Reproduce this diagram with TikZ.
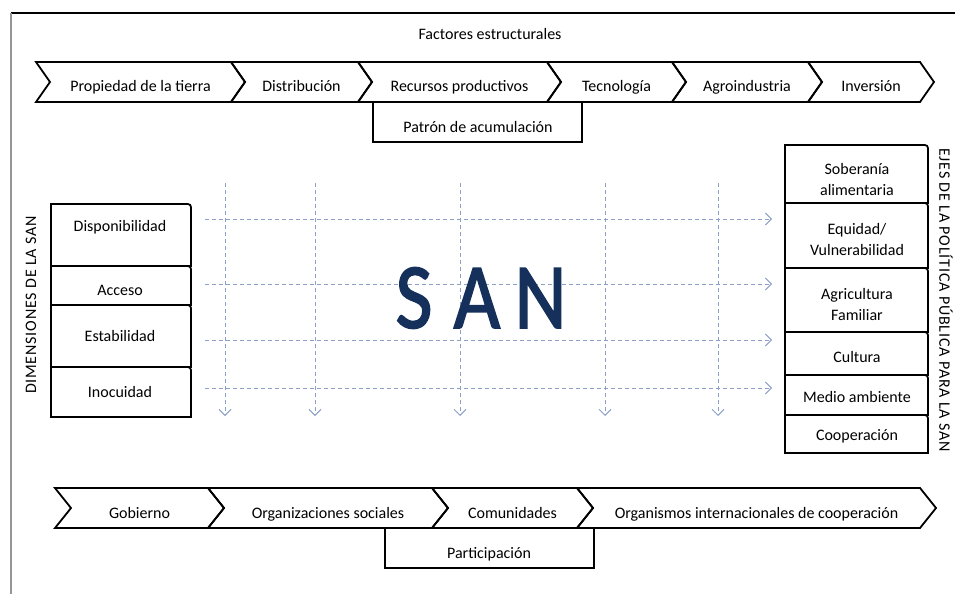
\documentclass[tikz,border=0pt]{standalone}
\usepackage{fontspec}
\setmainfont{Carlito}
\usetikzlibrary{arrows.meta}
\definecolor{dashblue}{RGB}{140,160,200}
\definecolor{sanblue}{RGB}{22,48,92}
\definecolor{framegray}{RGB}{150,150,150}
\begin{document}
\begin{tikzpicture}[x=1pt,y=-1pt,
  lbl/.style={font=\fontsize{16}{21}\selectfont, inner sep=0pt, align=center, anchor=base},
  side/.style={font=\fontsize{16}{18}\selectfont\addfontfeatures{LetterSpace=5}, inner sep=0pt},
  chevline/.style={draw=black, line width=1.8pt, line join=miter},
  boxline/.style={draw=black, line width=1.8pt},
  guide/.style={draw=dashblue, line width=0.9pt, dash pattern=on 4pt off 3pt, -{Straight Barb[length=6pt,width=12pt]}},
]
\useasboundingbox (0,0) rectangle (955,594);
% frame
\draw[black, line width=1.2pt] (11,13) -- (955,13);
\draw[framegray, line width=2.2pt] (11,13) -- (11,594);

\node[lbl] (title) at (490,40) {Factores estructurales};

% top chevrons
\foreach \a/\b/\n/\t in {36/231/c1/{Propiedad de la tierra},231/358/c2/{Distribución},358/547/c3/{Recursos productivos},547/672/c4/{Tecnología},672/808/c5/{Agroindustria},808/920/c6/{Inversión}}{
  \draw[chevline] (\a,62) -- (\b,62) -- (\b+14,82) -- (\b,102) -- (\a,102) -- (\a+14,82) -- cycle;
  \node[lbl] (\n) at ({(\a+\b)/2+7},92) {\t};
}
\draw[boxline] (373,102) -- (373,142) -- (582,142) -- (582,102);
\node[lbl] (patron) at (478,132) {Patrón de acumulación};

% bottom chevrons
\foreach \a/\b/\n/\t in {55/208/b1/{Gobierno},208/432/b2/{Organizaciones sociales},432/577/b3/{Comunidades},577/920/b4/{Organismos internacionales de cooperación}}{
  \draw[chevline] (\a,488) -- (\b,488) -- (\b+16,508) -- (\b,528) -- (\a,528) -- (\a+16,508) -- cycle;
  \node[lbl] (\n) at ({(\a+\b)/2+8},518) {\t};
}
\draw[boxline] (385,528) -- (385,568) -- (594,568) -- (594,528);
\node[lbl] (partic) at (489,558) {Participación};

% left stack
\foreach \ya/\yb/\ty/\n/\t in {204/266/231/d1/{Disponibilidad},266/305/295/d2/{Acceso},305/367/341/d3/{Estabilidad},367/417/397/d4/{Inocuidad}}{
  \draw[boxline] (51,\yb) -- (51,\ya) -- (184,\ya) .. controls (191,\ya) .. (191,\ya+7) -- (191,\yb) -- cycle;
  \node[lbl] (\n) at (120,\ty) {\t};
}
\node[side, rotate=90] (dimlbl) at (31,305) {DIMENSIONES DE LA SAN};

% right stack (base anchor = last line baseline)
\foreach \ya/\yb/\ty/\n/\t in {145/203/195/e1/{Soberanía\\alimentaria},203/268/255/e2/{Equidad/\\Vulnerabilidad},268/332/320/e3/{Agricultura\\Familiar},332/375/362/e4/{Cultura},375/415/402/e5/{Medio ambiente},415/453/440/e6/{Cooperación}}{
  \draw[boxline] (785,\yb) -- (785,\ya) -- (921,\ya) .. controls (928,\ya) .. (928,\ya+7) -- (928,\yb) -- cycle;
  \node[lbl] (\n) at (857,\ty) {\t};
}
\node[side, rotate=-90] (ejeslbl) at (946,300) {EJES DE LA POLÍTICA PÚBLICA PARA LA SAN};

% dashed guides
\foreach \y/\n in {219/1,284/2,340/3,388/4}{
  \coordinate (hs\n) at (205,\y);
  \coordinate (he\n) at (772,\y);
  \draw[guide] (hs\n) -- (he\n);
}
\foreach \x/\n in {225/1,315/2,460/3,605/4,718/5}{
  \coordinate (vs\n) at (\x,183);
  \coordinate (ve\n) at (\x,416);
  \draw[guide] (vs\n) -- (ve\n);
}

% SAN
\node[inner sep=0pt, text=sanblue, font=\fontsize{93}{93}\selectfont\addfontfeatures{FakeBold=2}] (san) at (481,298) {\scalebox{0.86}[1]{S\hspace{25pt}A\hspace{17pt}N}};
\end{tikzpicture}
\end{document}
